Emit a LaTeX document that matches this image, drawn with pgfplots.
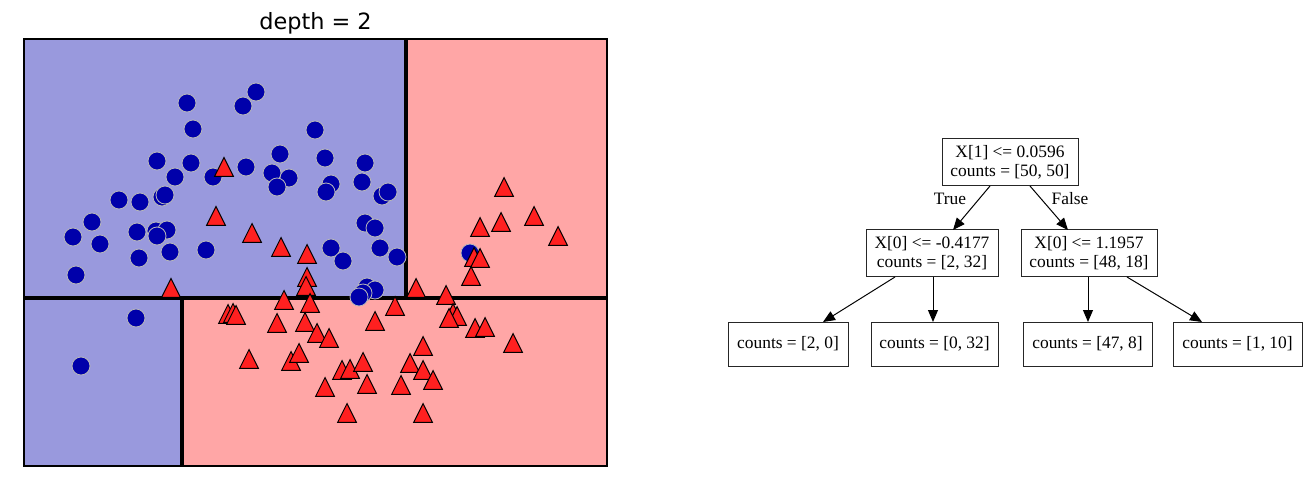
\documentclass[border=0pt]{standalone}
\usepackage{pgfplots}
\pgfplotsset{compat=1.18}
\usepackage{fontspec}
\setmainfont{Liberation Serif}
\newfontfamily\titlefont{DejaVu Sans}
\usetikzlibrary{arrows.meta}
\definecolor{bluebg}{HTML}{9999DD}
\definecolor{redbg}{HTML}{FFA6A6}
\definecolor{bluept}{HTML}{0000AA}
\definecolor{redpt}{HTML}{FF2020}
\pgfdeclareplotmark{tri}{%
  \pgfpathmoveto{\pgfqpoint{0pt}{\pgfplotmarksize}}%
  \pgfpathlineto{\pgfqpoint{-\pgfplotmarksize}{-\pgfplotmarksize}}%
  \pgfpathlineto{\pgfqpoint{\pgfplotmarksize}{-\pgfplotmarksize}}%
  \pgfpathclose
  \pgfusepathqfillstroke}
\begin{document}
\begin{tikzpicture}[x=0.5pt,y=0.5pt]
\useasboundingbox (0,0) rectangle (1314,483);
\coordinate (axpos) at (24,17);
\begin{axis}[
  at={(axpos)}, anchor=south west,
  width=291.5pt, height=213.5pt, scale only axis,
  xmin=24, xmax=607, ymin=39, ymax=466, y dir=reverse,
  xtick=\empty, ytick=\empty,
  axis on top,
  axis line style={line width=0.75pt},
  title={depth = 2},
  every axis title shift=0pt,
  title style={font=\titlefont\fontsize{11.2}{13}\selectfont, at={(0.5,1)}, anchor=base, yshift=5pt},
  clip=false,
]
% regions
\addplot[fill=bluebg, draw=none] coordinates {(24,39) (406,39) (406,298) (24,298)} -- cycle;
\addplot[fill=redbg, draw=none] coordinates {(406,39) (607,39) (607,298) (406,298)} -- cycle;
\addplot[fill=bluebg, draw=none] coordinates {(24,298) (182,298) (182,466) (24,466)} -- cycle;
\addplot[fill=redbg, draw=none] coordinates {(182,298) (607,298) (607,466) (182,466)} -- cycle;
% split lines
\addplot[black, line width=1.6pt] coordinates {(24,298) (607,298)};
\addplot[black, line width=1.6pt] coordinates {(406,39) (406,298)};
\addplot[black, line width=1.6pt] coordinates {(182,298) (182,466)};
% class 0: circles
\addplot[only marks, mark=*, mark size=4.5pt, mark options={fill=bluept, draw=gray!55, line width=0.4pt}] coordinates {
(187,103) (256,92) (243,106) (193,129) (157,161) (191,163) (175,177) (213,177)
(246,167) (280,154) (272,173) (289,178) (277,187) (315,130) (325,158) (365,163)
(362,182) (331,184) (326,192) (382,196) (388,192) (119,200) (140,202) (162,197)
(165,195) (92,222) (73,237) (100,244) (137,232) (156,231) (167,230) (157,236)
(170,252) (139,258) (206,250) (76,275) (365,223) (375,228) (331,248) (343,261)
(380,248) (397,257) (367,287) (375,290) (363,293) (359,297) (470,253) (136,318)
(81,366)
};
% class 1: triangles
\addplot[only marks, mark=tri, mark size=4.7pt, mark options={fill=redpt, draw=black, line width=0.5pt}] coordinates {
(224,167) (216,216) (252,233) (281,247) (307,254) (307,277) (306,286) (171,288)
(284,300) (310,303) (228,314) (233,313) (236,315) (277,323) (305,322) (317,333)
(329,338) (249,359) (291,361) (299,353) (325,387) (342,370) (350,369) (363,362)
(367,384) (347,413) (375,321) (395,306) (416,288) (446,295) (453,313) (457,316)
(449,318) (475,328) (485,327) (513,343) (423,346) (410,363) (423,370) (433,380)
(401,385) (423,413) (504,187) (534,216) (480,227) (501,222) (558,236) (474,257)
(480,258) (471,276)
};
\end{axis}
% decision tree
\begin{scope}[every node/.style={draw=black!85, line width=0.5pt, inner sep=0pt, align=center,
    font=\fontsize{8.7}{9.6}\selectfont}]
\node[minimum width=68pt, minimum height=23.5pt] (r) at (1010,320.5) {X[1] <= 0.0596\\counts = [50, 50]};
\node[minimum width=66pt, minimum height=23.5pt] (a) at (932,229.5) {X[0] <= -0.4177\\counts = [2, 32]};
\node[minimum width=68pt, minimum height=23.5pt] (b) at (1089,229.5) {X[0] <= 1.1957\\counts = [48, 18]};
\node[minimum width=60pt, minimum height=22pt] at (788,139) {counts = [2, 0]};
\node[minimum width=63.5pt, minimum height=22pt] at (934.5,139) {counts = [0, 32]};
\node[minimum width=64.5pt, minimum height=22pt] at (1087.5,139) {counts = [47, 8]};
\node[minimum width=64.5pt, minimum height=22pt] at (1237.5,139) {counts = [1, 10]};
\end{scope}
\begin{scope}[line width=0.5pt, -{Triangle[length=6pt,width=5pt]}]
\draw (990,297) -- (953,253);
\draw (1030,297) -- (1068,253);
\draw (895,206) -- (823,161);
\draw (933,206) -- (933,161);
\draw (1088,206) -- (1088,161);
\draw (1127,206) -- (1202,161);
\end{scope}
\node[font=\fontsize{8.7}{9.6}\selectfont] at (950,284) {True};
\node[font=\fontsize{8.7}{9.6}\selectfont] at (1070,284) {False};
\end{tikzpicture}
\end{document}
